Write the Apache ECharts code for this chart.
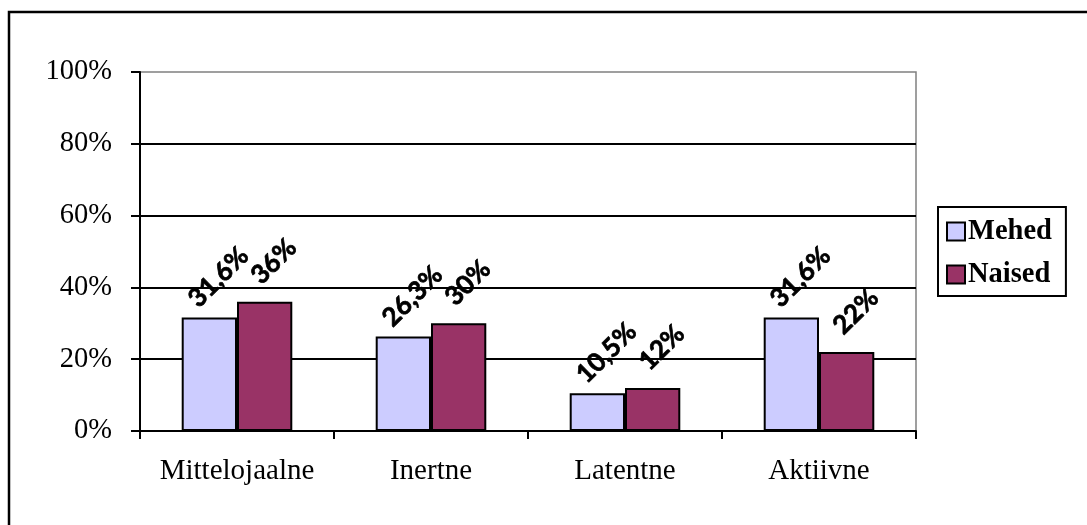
<!DOCTYPE html>
<html>
<head>
<meta charset="utf-8">
<style>
  html, body { margin: 0; padding: 0; background: #fff; }
  #chart { width: 1087px; height: 525px; }
</style>
<script src="https://cdn.jsdelivr.net/npm/echarts@6/dist/echarts.min.js"></script>
</head>
<body>
<div id="chart"></div>
<script>
const categories = ['Mittelojaalne', 'Inertne', 'Latentne', 'Aktiivne'];
const mehed = [31.6, 26.3, 10.5, 31.6];
const naised = [36, 30, 12, 22];
const mehedLabels = ['31,6%', '26,3%', '10,5%', '31,6%'];
const naisedLabels = ['36%', '30%', '12%', '22%'];
const yTicks = [0, 20, 40, 60, 80, 100];

const chart = echarts.init(document.getElementById('chart'));

const labelStyle = {
  show: true,
  position: 'top',
  distance: 0,
  rotate: 45,
  align: 'center',
  verticalAlign: 'middle',
  offset: [35, -22],
  fontFamily: 'Lato',
  fontWeight: 'bold',
  fontSize: 26,
  color: '#000',
  textBorderColor: '#000',
  textBorderWidth: 0.7
};

chart.setOption({
  animation: false,
  backgroundColor: '#fff',
  graphic: [{
    type: 'rect',
    shape: { x: 9, y: 12, width: 1200, height: 700 },
    style: { fill: 'none', stroke: '#000', lineWidth: 2.5 },
    z: 100
  }],
  grid: {
    left: 140, right: 171, top: 72, bottom: 94,
    show: true, borderColor: '#808080', borderWidth: 1.5, backgroundColor: 'transparent'
  },
  legend: {
    orient: 'vertical',
    left: 938, top: 207,
    padding: [10, 14, 7, 8],
    itemWidth: 18, itemHeight: 18,
    itemGap: 14,
    icon: 'rect',
    itemStyle: { borderColor: '#000', borderWidth: 2 },
    borderColor: '#000', borderWidth: 2,
    textStyle: { fontFamily: 'Liberation Serif', fontWeight: 'bold', fontSize: 28.5, color: '#000', padding: [0, 0, 0, -2] },
    data: ['Mehed', 'Naised']
  },
  xAxis: {
    type: 'category',
    data: categories,
    axisLine: { lineStyle: { color: '#000', width: 2 } },
    axisTick: { show: true, interval: 0, length: 8, lineStyle: { color: '#000', width: 2 } },
    axisLabel: { interval: 0, margin: 26, fontFamily: 'Liberation Serif', fontSize: 29, color: '#000' }
  },
  yAxis: {
    type: 'value',
    min: 0, max: 100, interval: 20,
    axisLine: { show: true, lineStyle: { color: '#000', width: 2 } },
    axisTick: { show: true, length: 9, lineStyle: { color: '#000', width: 2 } },
    axisLabel: {
      margin: 28, fontFamily: 'Liberation Serif', fontSize: 28.5, color: '#000',
      formatter: v => yTicks.includes(v) ? v + '%' : ''
    },
    splitLine: { show: true, showMaxLine: false, lineStyle: { color: '#000', width: 2 } }
  },
  series: [
    {
      name: 'Mehed', type: 'bar', data: mehed,
      barGap: '0%', barCategoryGap: '43%',
      itemStyle: { color: '#CCCCFF', borderColor: '#000', borderWidth: 2 },
      label: Object.assign({}, labelStyle, { formatter: p => mehedLabels[p.dataIndex] })
    },
    {
      name: 'Naised', type: 'bar', data: naised,
      barGap: '0%', barCategoryGap: '43%',
      itemStyle: { color: '#993366', borderColor: '#000', borderWidth: 2 },
      label: Object.assign({}, labelStyle, { formatter: p => naisedLabels[p.dataIndex] })
    }
  ]
});
</script>
</body>
</html>
